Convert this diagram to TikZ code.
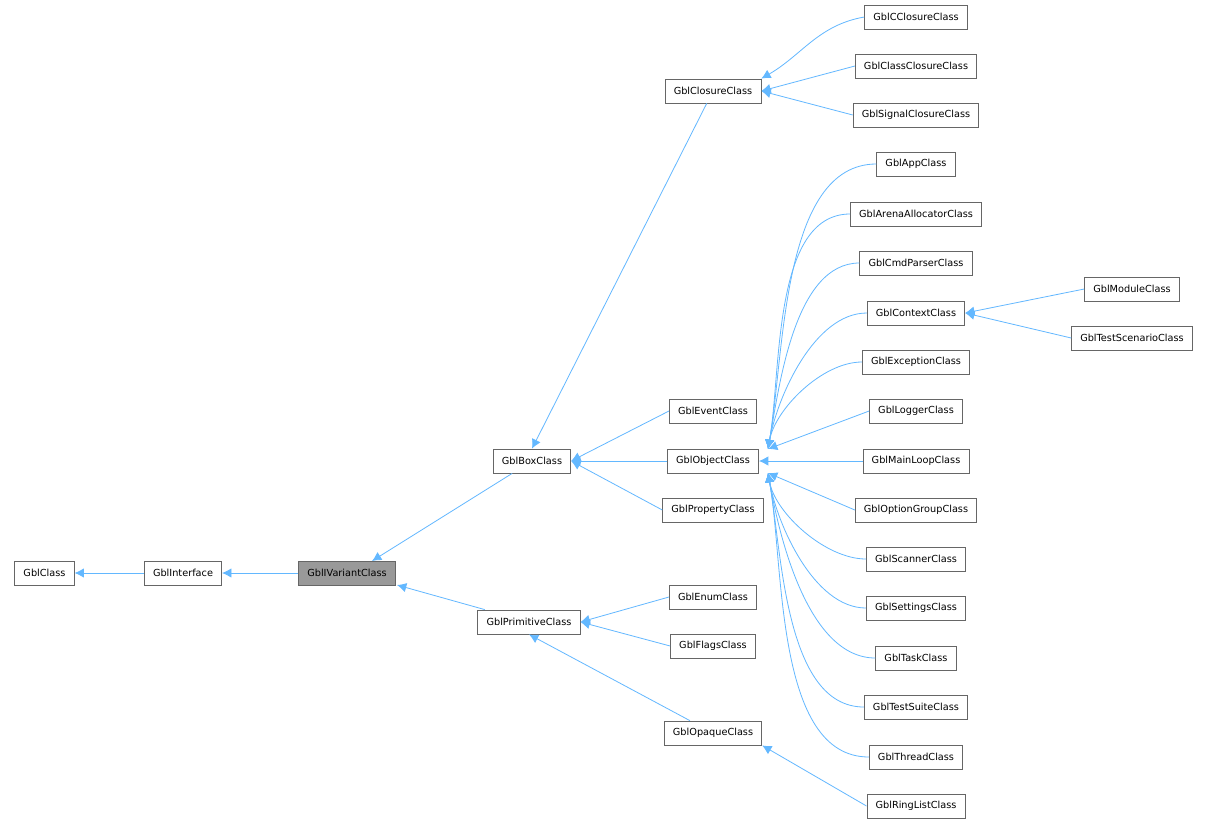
\documentclass[tikz,border=0pt]{standalone}
\usepackage{fontspec}
\setmainfont{DejaVu Sans}
\usetikzlibrary{arrows.meta,calc}
\definecolor{edgec}{HTML}{63B8FF}
\definecolor{boxc}{HTML}{666666}
\begin{document}
\begin{tikzpicture}[x=0.75pt,y=-0.75pt,
  cls/.style={draw=boxc,fill=white,line width=0.6pt,minimum height=18pt,inner xsep=6.5pt,font=\fontsize{7.3}{8}\selectfont},
  edge/.style={draw=edgec,line width=0.6pt,-{Latex[length=7pt,width=7pt,fill=edgec]}}]
\useasboundingbox (0,0) rectangle (1219,825);
\fill[white] (0,0) rectangle (1219,825);
\node[cls] (gc) at (44.5,573) {GblClass};
\node[cls] (gi) at (183,573) {GblInterface};
\node[cls,fill=black!40] (gv) at (347,573) {GblIVariantClass};
\node[cls] (box) at (532,461) {GblBoxClass};
\node[cls] (prim) at (529,622) {GblPrimitiveClass};
\node[cls] (clo) at (713,91) {GblClosureClass};
\node[cls] (ev) at (713,411) {GblEventClass};
\node[cls] (obj) at (713,461) {GblObjectClass};
\node[cls] (prop) at (713,510) {GblPropertyClass};
\node[cls] (en) at (713,597) {GblEnumClass};
\node[cls] (fl) at (713,646) {GblFlagsClass};
\node[cls] (op) at (713,733) {GblOpaqueClass};
\node[cls] (cc) at (916,17) {GblCClosureClass};
\node[cls] (ccl) at (916,66) {GblClassClosureClass};
\node[cls] (sc) at (916,115) {GblSignalClosureClass};
\node[cls] (app) at (916,164) {GblAppClass};
\node[cls] (ar) at (916,214) {GblArenaAllocatorClass};
\node[cls] (cmd) at (916,263) {GblCmdParserClass};
\node[cls] (ctx) at (916,313) {GblContextClass};
\node[cls] (exc) at (916,362) {GblExceptionClass};
\node[cls] (log) at (916,411) {GblLoggerClass};
\node[cls] (ml) at (916,461) {GblMainLoopClass};
\node[cls] (og) at (916,510) {GblOptionGroupClass};
\node[cls] (scn) at (916,559) {GblScannerClass};
\node[cls] (set) at (916,608) {GblSettingsClass};
\node[cls] (task) at (916,658) {GblTaskClass};
\node[cls] (ts) at (916,707) {GblTestSuiteClass};
\node[cls] (thr) at (916,757) {GblThreadClass};
\node[cls] (rl) at (916,806) {GblRingListClass};
\node[cls] (mod) at (1132,289) {GblModuleClass};
\node[cls] (tsc) at (1132,338) {GblTestScenarioClass};
\coordinate (oup) at (768,449);
\coordinate (olo) at (768,473);
\coordinate (gvn) at (372,561);
\coordinate (gvs) at (397,585);
\draw[edge] (gi) -- (gc);
\draw[edge] (gv) -- (gi);
\draw[edge] (box) -- (gvn);
\draw[edge] (prim) -- (gvs);
\draw[edge] (clo) -- (box.north);
\draw[edge] (ev.west) -- (box.east);
\draw[edge] (obj) -- (box);
\draw[edge] (prop.west) -- (box.east);
\draw[edge] (en.west) -- (prim.east);
\draw[edge] (fl.west) -- (prim.east);
\draw[edge] (op) -- (prim.south);
\draw[edge] (cc.west) to[out=190,in=30] (clo.north east);
\draw[edge] (ccl.west) -- (clo.east);
\draw[edge] (sc.west) -- (clo.east);
\draw[edge] (rl.west) -- (op.south east);
\draw[edge] (mod.west) -- (ctx.east);
\draw[edge] (tsc.west) -- (ctx.east);
\foreach \n in {app,ar,cmd,ctx,exc}
  \draw[edge] (\n.west) to[out=180,in=80,looseness=0.8] (oup);
\draw[edge] (log.west) -- (oup);
\draw[edge] (ml.west) -- (obj.east);
\draw[edge] (og.west) -- (olo);
\foreach \n in {scn,set,task,ts,thr}
  \draw[edge] (\n.west) to[out=180,in=-80,looseness=0.8] (olo);
\end{tikzpicture}
\end{document}
